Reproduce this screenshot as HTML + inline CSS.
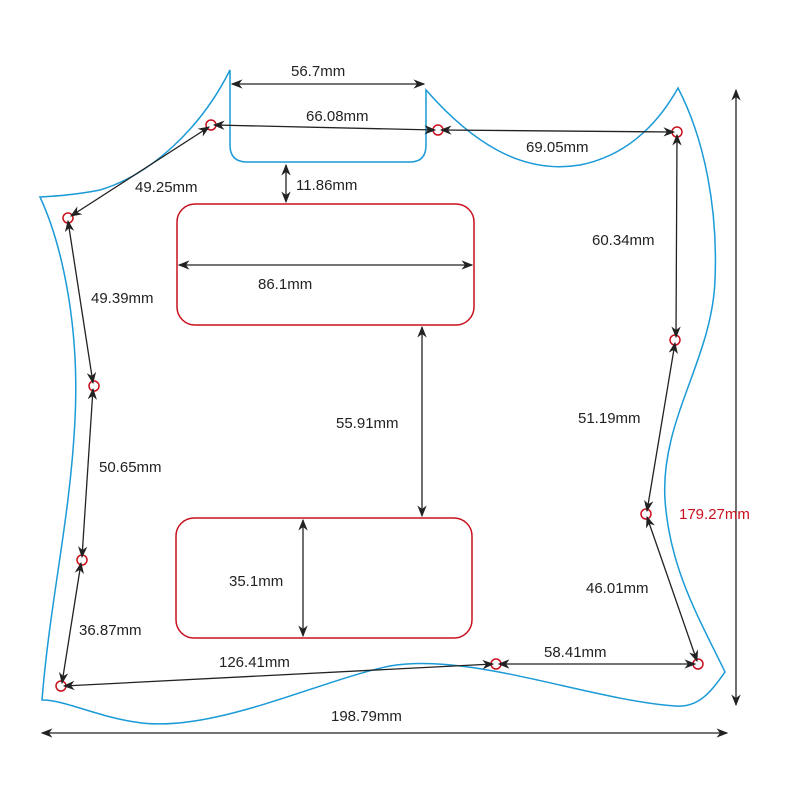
<!DOCTYPE html>
<html><head><meta charset="utf-8"><style>body{margin:0;background:#fff}svg{display:block}text{font-family:"Liberation Sans",Arial,sans-serif;font-size:15px;fill:#222}</style></head><body>
<svg width="800" height="800" viewBox="0 0 800 800">
<defs><marker id="a" viewBox="0 0 10 10" refX="9" refY="5" markerWidth="9" markerHeight="9" orient="auto-start-reverse"><path d="M0,1 L10,5 L0,9 L3,5 Z" fill="#222"/></marker></defs>
<g fill="none" stroke="#1a9ad6" stroke-width="1.5">
<path d="M230,70 L230,145 Q230,162 247,162 L410,162 Q426,162 426,145 L426,90 C470,140 520,175 580,165 C630,155 660,120 678,88 C705,140 718,210 715,280 C712,360 660,420 665,500 C670,570 700,620 725,672 C712,690 700,708 675,706 C590,700 470,652 390,666 C320,680 210,735 135,722 C95,716 65,700 42,700 C50,600 70,520 75,420 C80,320 60,240 40,197 C60,196 80,194 100,190 C150,175 200,130 230,70 Z"/>
</g>
<g fill="none" stroke="#c8101e" stroke-width="1.5">
<rect x="177" y="204" width="297" height="121" rx="18"/>
<rect x="176" y="518" width="296" height="120" rx="18"/>
<circle cx="211" cy="125" r="5"/><circle cx="438" cy="130" r="5"/><circle cx="677" cy="132" r="5"/><circle cx="68" cy="218" r="5"/><circle cx="94" cy="386" r="5"/><circle cx="675" cy="340" r="5"/><circle cx="82" cy="560" r="5"/><circle cx="646" cy="514" r="5"/><circle cx="61" cy="686" r="5"/><circle cx="496" cy="664" r="5"/><circle cx="698" cy="664" r="5"/>
</g>
<g stroke="#222" stroke-width="1.3" marker-start="url(#a)" marker-end="url(#a)">
<line x1="232" y1="84" x2="424" y2="84"/>
<line x1="214" y1="125" x2="435" y2="130"/>
<line x1="441" y1="130" x2="674" y2="132"/>
<line x1="209" y1="127" x2="71" y2="216"/>
<line x1="286" y1="165" x2="286" y2="202"/>
<line x1="179" y1="265" x2="472" y2="265"/>
<line x1="422" y1="327" x2="422" y2="516"/>
<line x1="303" y1="520" x2="303" y2="636"/>
<line x1="68" y1="221" x2="93" y2="383"/>
<line x1="93" y1="389" x2="82" y2="557"/>
<line x1="81" y1="563" x2="62" y2="683"/>
<line x1="64" y1="686" x2="493" y2="664"/>
<line x1="499" y1="664" x2="695" y2="664"/>
<line x1="677" y1="135" x2="676" y2="337"/>
<line x1="675" y1="343" x2="647" y2="511"/>
<line x1="647" y1="517" x2="697" y2="661"/>
<line x1="736" y1="90" x2="736" y2="705"/>
<line x1="42" y1="733" x2="727" y2="733"/>
</g>
<text x="291" y="76">56.7mm</text>
<text x="306" y="121">66.08mm</text>
<text x="526" y="152">69.05mm</text>
<text x="135" y="192">49.25mm</text>
<text x="296" y="190">11.86mm</text>
<text x="258" y="289">86.1mm</text>
<text x="91" y="303">49.39mm</text>
<text x="592" y="245">60.34mm</text>
<text x="336" y="428">55.91mm</text>
<text x="578" y="423">51.19mm</text>
<text x="99" y="472">50.65mm</text>
<text x="679" y="519" style="fill:#c8101e">179.27mm</text>
<text x="229" y="586">35.1mm</text>
<text x="586" y="593">46.01mm</text>
<text x="79" y="635">36.87mm</text>
<text x="219" y="667">126.41mm</text>
<text x="544" y="657">58.41mm</text>
<text x="331" y="721">198.79mm</text>
</svg>
</body></html>
